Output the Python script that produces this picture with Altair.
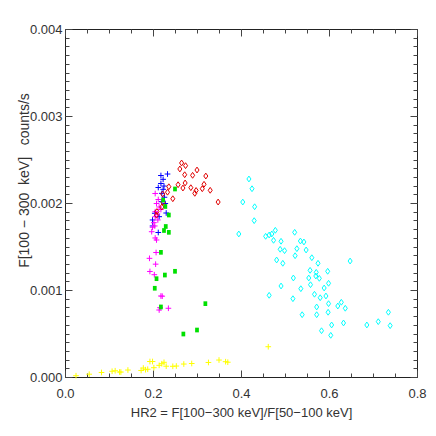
import altair as alt
import pandas as pd

# ---- data ----
cyan_x = [0.418, 0.425, 0.404, 0.431, 0.430, 0.395, 0.456, 0.464, 0.470, 0.478,
          0.474, 0.491, 0.522, 0.535, 0.543, 0.489, 0.499, 0.527, 0.548, 0.481,
          0.495, 0.523, 0.561, 0.575, 0.648, 0.557, 0.571, 0.597, 0.519, 0.554,
          0.570, 0.578, 0.599, 0.558, 0.491, 0.536, 0.589, 0.464, 0.518, 0.567,
          0.580, 0.593, 0.599, 0.572, 0.620, 0.628, 0.637, 0.539, 0.572, 0.598,
          0.606, 0.633, 0.686, 0.712, 0.735, 0.739, 0.583, 0.604]
cyan_y = [0.002276, 0.002164, 0.002011, 0.001957, 0.001797, 0.001644, 0.001617, 0.001632, 0.001644, 0.001686,
          0.001571, 0.001560, 0.001663, 0.001563, 0.001552, 0.001468, 0.001452, 0.001475, 0.001460, 0.001345,
          0.001307, 0.001394, 0.001371, 0.001307, 0.001333, 0.001226, 0.001203, 0.001215, 0.001138, 0.001138,
          0.001161, 0.001134, 0.001077, 0.001061, 0.001046, 0.001015, 0.001023, 0.000939, 0.000900, 0.000951,
          0.000911, 0.000931, 0.000843, 0.000805, 0.000816, 0.000859, 0.000790, 0.000716, 0.000716, 0.000744,
          0.000598, 0.000621, 0.000598, 0.000636, 0.000744, 0.000590, 0.000532, 0.000479]

red_x = [0.265, 0.274, 0.261, 0.272, 0.290, 0.300, 0.320, 0.273, 0.257, 0.268,
         0.286, 0.295, 0.298, 0.316, 0.312, 0.330, 0.348, 0.236, 0.233, 0.222,
         0.245, 0.223, 0.220, 0.209, 0.208]
red_y = [0.002460, 0.002429, 0.002391, 0.002325, 0.002318, 0.002379, 0.002310, 0.002230, 0.002210, 0.002172,
         0.002176, 0.002111, 0.002144, 0.002215, 0.002164, 0.002146, 0.002011, 0.002187, 0.002124, 0.002103,
         0.002049, 0.002006, 0.001954, 0.001902, 0.001859]

blue_x = [0.233, 0.218, 0.223, 0.218, 0.225, 0.212, 0.223, 0.220, 0.226, 0.220,
          0.228, 0.230, 0.214, 0.204, 0.199, 0.199, 0.212]
blue_y = [0.002333, 0.002316, 0.002272, 0.002224, 0.002195, 0.002178, 0.002157, 0.002111, 0.002066, 0.002015,
          0.001994, 0.001885, 0.001843, 0.001882, 0.001805, 0.001736, 0.001661]

magenta_x = [0.205, 0.212, 0.208, 0.214, 0.218, 0.205, 0.210, 0.205, 0.211, 0.202,
             0.199, 0.204, 0.197, 0.205, 0.208, 0.207, 0.192, 0.206, 0.193, 0.203,
             0.218, 0.221, 0.214, 0.216, 0.235]
magenta_y = [0.002109, 0.002040, 0.001994, 0.001954, 0.001925, 0.001900, 0.001874, 0.001843, 0.001805, 0.001774,
             0.001721, 0.001736, 0.001670, 0.001598, 0.001575, 0.001431, 0.001364, 0.001297, 0.001213, 0.001176,
             0.000931, 0.000929, 0.000770, 0.000797, 0.000790]

green_x = [0.250, 0.223, 0.228, 0.236, 0.229, 0.225, 0.236, 0.218, 0.250, 0.227,
           0.208, 0.204, 0.218, 0.319, 0.300, 0.269]
green_y = [0.002161, 0.002034, 0.001960, 0.001862, 0.001730, 0.001684, 0.001663, 0.001433, 0.001215, 0.001172,
           0.001130, 0.001020, 0.000805, 0.000843, 0.000540, 0.000494]

yellow_x = [0.025, 0.055, 0.083, 0.107, 0.114, 0.124, 0.127, 0.143, 0.173, 0.178,
            0.183, 0.188, 0.193, 0.199, 0.202, 0.214, 0.220, 0.225, 0.230, 0.245,
            0.253, 0.270, 0.288, 0.326, 0.350, 0.365, 0.370, 0.462]
yellow_y = [0.000015, 0.000032, 0.000052, 0.000066, 0.000072, 0.000057, 0.000057, 0.000080, 0.000075, 0.000103,
            0.000084, 0.000089, 0.000178, 0.000178, 0.000107, 0.000134, 0.000153, 0.000169, 0.000124, 0.000123,
            0.000126, 0.000149, 0.000155, 0.000167, 0.000195, 0.000176, 0.000170, 0.000348]

x_major = [0.0, 0.2, 0.4, 0.6, 0.8]
x_minor = [round(i * 0.05, 2) for i in range(17)]
y_major = [0.0, 0.001, 0.002, 0.003, 0.004]
y_minor = [round(i * 0.0001, 4) for i in range(41)]

NB = "\u00a0"
x_title = "HR2 = F[100\u2212300 keV]/F[50\u2212100 keV]"
y_title = "F[100" + NB + "\u2212" + NB + "300" + NB * 2 + "keV]" + NB * 3 + "counts/s"

W, H = 352, 348
FONT = "Liberation Sans"
TXT = "#333333"
TICK = "#444444"

xscale = alt.Scale(domain=[0, 0.8], nice=False, zero=False)
yscale = alt.Scale(domain=[0, 0.004], nice=False, zero=False)

def lab_axis_x():
    return alt.Axis(orient="bottom", values=x_major, format=".1f", ticks=False, tickSize=0,
                    domain=False, grid=False, labelPadding=10, labelFlush=False,
                    labelFont=FONT, labelFontSize=13,
                    labelColor=TXT, title=x_title, titleFont=FONT, titleFontSize=13,
                    titleFontWeight="normal", titleColor=TXT, titlePadding=6)

def lab_axis_y():
    return alt.Axis(orient="left", values=y_major, format=".3f", ticks=False, tickSize=0,
                    domain=False, grid=False, labelPadding=3, labelFlush=False,
                    labelFont=FONT, labelFontSize=13,
                    labelColor=TXT, title=y_title, titleFont=FONT, titleFontSize=14,
                    titleFontWeight="normal", titleColor=TXT, titleAngle=270,
                    titleX=-41, titleY=151, titleAlign="center", titleBaseline="middle")

def tick_axis(orient, offset, vals, size):
    return alt.Axis(orient=orient, offset=offset, values=vals, tickSize=size, ticks=True,
                    labels=False, domain=False, grid=False, title=None,
                    tickColor=TICK, tickWidth=1)

plus_path = "M-1,0L1,0M0,-1L0,1"
diamond_path = "M0,-1L0.7,0L0,1L-0.7,0Z"
box_path = "M-0.8,-1L0.8,-1L0.8,1L-0.8,1Z"

def layer(xs, ys, color, shape, size, filled, xaxis, yaxis):
    df = pd.DataFrame({"x": xs, "y": ys})
    enc_x = alt.X("x:Q", scale=xscale, axis=xaxis)
    enc_y = alt.Y("y:Q", scale=yscale, axis=yaxis)
    return alt.Chart(df).mark_point(shape=shape, size=size, filled=filled, color=color,
                                    strokeWidth=1, opacity=1).encode(x=enc_x, y=enc_y)

l_yellow = layer(yellow_x, yellow_y, "#ffff00", plus_path, 32, False, lab_axis_x(), lab_axis_y())
l_cyan = layer(cyan_x, cyan_y, "#00ffff", diamond_path, 34, False,
               tick_axis("top", -H, x_major, 7), tick_axis("right", -W, y_major, 7))
l_blue = layer(blue_x, blue_y, "#0000ff", plus_path, 32, False,
               tick_axis("top", -H, x_minor, 4), tick_axis("right", -W, y_minor, 4))
l_magenta = layer(magenta_x, magenta_y, "#ff00ff", plus_path, 32, False,
                  tick_axis("bottom", -H, x_major, 7), tick_axis("left", -W, y_major, 7))
l_red = layer(red_x, red_y, "#e00000", diamond_path, 34, False,
              tick_axis("bottom", -H, x_minor, 4), tick_axis("left", -W, y_minor, 4))
l_green = layer(green_x, green_y, "#00e000", box_path, 22, True, None, None)

chart = alt.layer(l_yellow, l_cyan, l_blue, l_magenta, l_red, l_green).resolve_axis(
    x="independent", y="independent"
).properties(
    width=W, height=H,
    autosize=alt.AutoSizeParams(type="none"),
    padding={"left": 57, "top": 21, "right": 11, "bottom": 51},
    background="white",
).configure_view(stroke="#222222", strokeWidth=1)

chart.save("out.html", embed_options={"renderer": "svg", "actions": False})
